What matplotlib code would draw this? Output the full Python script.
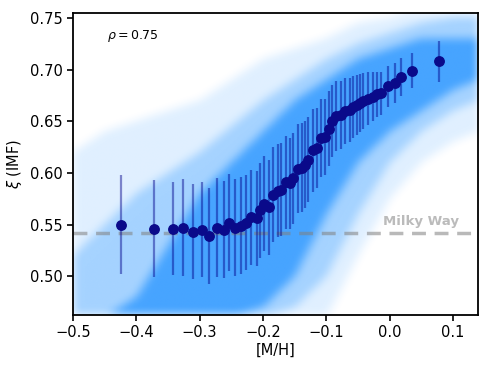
import numpy as np
import matplotlib
matplotlib.use("Agg")
import matplotlib.pyplot as plt

# binned medians with 1-sigma scatter
bin_mh = [-0.424, -0.372, -0.342, -0.326, -0.311, -0.297, -0.285, -0.273, -0.262,
          -0.253, -0.244, -0.235, -0.226, -0.219, -0.210, -0.205, -0.198, -0.191,
          -0.184, -0.176, -0.171, -0.164, -0.158, -0.152, -0.145, -0.139, -0.134,
          -0.129, -0.121, -0.115, -0.109, -0.102, -0.096, -0.091, -0.084, -0.077,
          -0.071, -0.063, -0.058, -0.052, -0.047, -0.042, -0.034, -0.026, -0.020,
          -0.013, -0.003, 0.008, 0.018, 0.036, 0.078]
bin_xi = [0.550, 0.546, 0.546, 0.547, 0.543, 0.545, 0.539, 0.547, 0.545,
          0.552, 0.547, 0.549, 0.552, 0.557, 0.556, 0.564, 0.570, 0.567,
          0.579, 0.583, 0.584, 0.591, 0.590, 0.595, 0.604, 0.605, 0.608,
          0.613, 0.622, 0.624, 0.634, 0.635, 0.643, 0.650, 0.655, 0.656,
          0.660, 0.661, 0.664, 0.666, 0.668, 0.670, 0.672, 0.674, 0.676,
          0.677, 0.684, 0.687, 0.693, 0.699, 0.708]
bin_err = [0.048, 0.047, 0.045, 0.047, 0.046, 0.046, 0.046, 0.048, 0.047,
           0.047, 0.047, 0.047, 0.046, 0.046, 0.046, 0.046, 0.046, 0.046,
           0.046, 0.045, 0.045, 0.045, 0.044, 0.044, 0.043, 0.043, 0.042,
           0.041, 0.040, 0.039, 0.038, 0.037, 0.036, 0.035, 0.034, 0.033,
           0.032, 0.031, 0.030, 0.029, 0.028, 0.027, 0.026, 0.024, 0.022,
           0.021, 0.020, 0.019, 0.018, 0.017, 0.020]

# envelope of the background cloud (sparse, medium, dense), read by eye
cloud_mh = [-0.50, -0.45, -0.40, -0.35, -0.30, -0.25, -0.20, -0.15, -0.10, -0.05, 0.00, 0.05, 0.10, 0.14]
sparse_lo = [0.46, 0.46, 0.46, 0.46, 0.46, 0.46, 0.46, 0.46, 0.46, 0.52, 0.575, 0.61, 0.63, 0.64]
sparse_hi = [0.62, 0.64, 0.65, 0.66, 0.67, 0.69, 0.71, 0.72, 0.73, 0.745, 0.75, 0.76, 0.76, 0.76]
medium_lo = [0.46, 0.46, 0.46, 0.46, 0.46, 0.46, 0.46, 0.47, 0.50, 0.56, 0.61, 0.64, 0.66, 0.67]
medium_hi = [0.52, 0.55, 0.58, 0.60, 0.62, 0.645, 0.67, 0.69, 0.71, 0.725, 0.735, 0.745, 0.75, 0.75]
dense_lo = [0.46, 0.46, 0.46, 0.46, 0.46, 0.46, 0.47, 0.50, 0.56, 0.61, 0.64, 0.66, 0.68, 0.69]
dense_hi = [0.46, 0.46, 0.48, 0.53, 0.58, 0.61, 0.64, 0.67, 0.69, 0.71, 0.72, 0.73, 0.73, 0.73]

milky_way = 0.542
rho = 0.75

fig, ax = plt.subplots(figsize=(4.9, 3.68), dpi=100)
fig.subplots_adjust(left=0.149, right=0.976, top=0.965, bottom=0.144)

xlim = (-0.5, 0.14)
ylim = (0.4625, 0.755)

# density image of the cloud
gx = np.linspace(xlim[0], xlim[1], 500)
gy = np.linspace(ylim[0], ylim[1], 400)
X, Y = np.meshgrid(gx, gy)
dens = np.zeros_like(X)
for lo, hi, w in [(sparse_lo, sparse_hi, 0.14), (medium_lo, medium_hi, 0.26), (dense_lo, dense_hi, 0.42)]:
    lo_g = np.interp(gx, cloud_mh, lo)
    hi_g = np.interp(gx, cloud_mh, hi)
    dens += w * ((Y >= lo_g) & (Y <= hi_g))
# soften the band edges
k = np.hanning(31)
k /= k.sum()
dens = np.apply_along_axis(lambda r: np.convolve(r, k, mode="same"), 1, dens)
dens = np.apply_along_axis(lambda c: np.convolve(c, k, mode="same"), 0, dens)
rgba = np.zeros(dens.shape + (4,))
rgba[..., 0] = 30 / 255
rgba[..., 1] = 144 / 255
rgba[..., 2] = 1.0
rgba[..., 3] = np.clip(dens, 0, 0.82)
ax.imshow(rgba, extent=[xlim[0], xlim[1], ylim[0], ylim[1]], origin="lower",
          aspect="auto", interpolation="bilinear", zorder=0)

ax.axhline(milky_way, color="grey", ls="--", lw=2.5, alpha=0.55, dashes=(4, 2.5), zorder=1)
ax.text(-0.011, milky_way + 0.005, "Milky Way", color="#bbbbbb", fontsize=9.5,
        fontweight="bold", va="bottom", ha="left", zorder=1)

bx = np.array(bin_mh)
by = np.array(bin_xi)
be = np.array(bin_err)
ax.vlines(bx, by - be, by + be, colors="darkblue", alpha=0.45, lw=1.6, zorder=2)
ax.plot(bx, by, "o", color="#0a0a8a", ms=6.8, zorder=3)

ax.text(0.085, 0.925, r"$\rho = %.2f$" % rho, transform=ax.transAxes, fontsize=9,
        ha="left", va="center")

ax.set_xlim(*xlim)
ax.set_ylim(*ylim)
ax.set_xticks([-0.5, -0.4, -0.3, -0.2, -0.1, 0.0, 0.1])
ax.set_yticks([0.50, 0.55, 0.60, 0.65, 0.70, 0.75])
ax.set_yticklabels(["0.50", "0.55", "0.60", "0.65", "0.70", "0.75"])
ax.tick_params(labelsize=10.5, width=1.2, length=4)
for s in ax.spines.values():
    s.set_linewidth(1.3)
ax.set_xlabel("[M/H]", fontsize=10.5, labelpad=2)
ax.set_ylabel(r"$\xi$ (IMF)", fontsize=10.5, labelpad=4)

fig.savefig("out.png", dpi=100)
